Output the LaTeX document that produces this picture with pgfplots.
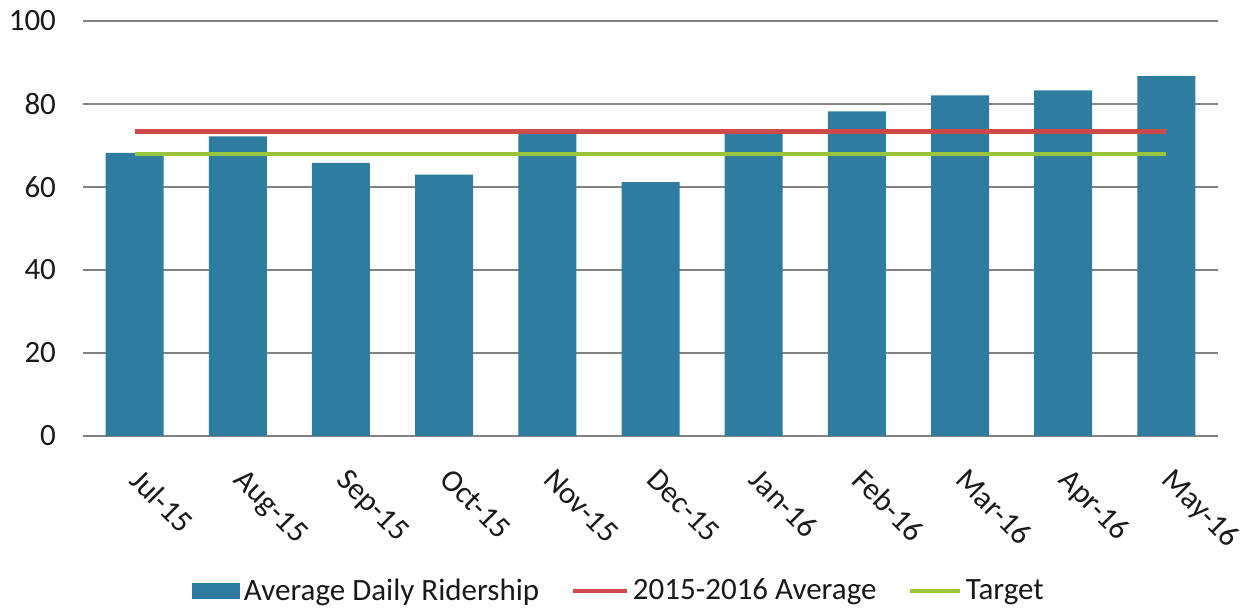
\documentclass[border=0pt]{standalone}
\usepackage{fontspec}
\setmainfont{Carlito}
\usepackage{pgfplots}
\pgfplotsset{compat=1.18}
\definecolor{barblue}{RGB}{46,125,161}
\definecolor{avgred}{RGB}{204,74,74}
\definecolor{tgtgreen}{RGB}{152,196,62}
\definecolor{gridgray}{RGB}{130,130,130}
\definecolor{txt}{RGB}{25,25,25}
\begin{document}
\begin{tikzpicture}
\begin{axis}[
  name=ax,
  scale only axis,
  width=567.5pt, height=207.5pt,
  xmin=-0.5, xmax=10.5,
  ymin=0, ymax=100,
  ytick={0,20,40,60,80,100},
  xtick={0,...,10},
  xticklabels={Jul-15,Aug-15,Sep-15,Oct-15,Nov-15,Dec-15,Jan-16,Feb-16,Mar-16,Apr-16,May-16},
  axis line style={draw=none},
  major tick length=0pt,
  ymajorgrids,
  grid style={gridgray, line width=0.8pt},
  /pgf/number format/assume math mode=true,
  tick label style={font=\fontsize{15.5}{18}\selectfont, text=txt},
  yticklabel style={xshift=-10pt},
  xticklabel style={xshift=4.5pt, yshift=-10.5pt, rotate=-45, anchor=north west},
  legend columns=3,
  legend style={at={(0.473,-0.3735)}, anchor=center, draw=none, fill=none,
    font=\fontsize{15.5}{18}\selectfont, text=txt,
    /tikz/every even column/.append style={column sep=13.5pt},
    nodes={inner xsep=2pt}},
]
\addplot[ybar, bar width=29pt, fill=barblue, draw=none,
  legend image code/.code={\fill[barblue] (0pt,-4pt) rectangle (24pt,4pt);}]
  coordinates {(0,68.2) (1,72.2) (2,65.8) (3,63.0) (4,72.8) (5,61.2) (6,73.0) (7,78.2) (8,82.1) (9,83.3) (10,86.7)};
\addlegendentry{Average Daily Ridership}
\addplot[avgred, line width=2.4pt, mark=none,
  legend image code/.code={\draw[avgred, line width=2.4pt] (0pt,0pt) -- (27pt,0pt);}]
  coordinates {(0,73.4) (1,73.4) (2,73.4) (3,73.4) (4,73.4) (5,73.4) (6,73.4) (7,73.4) (8,73.4) (9,73.4) (10,73.4)};
\addlegendentry{2015-2016 Average}
\addplot[tgtgreen, line width=2.2pt, mark=none,
  legend image code/.code={\draw[tgtgreen, line width=2.2pt] (0pt,0pt) -- (25pt,0pt);}]
  coordinates {(0,68) (1,68) (2,68) (3,68) (4,68) (5,68) (6,68) (7,68) (8,68) (9,68) (10,68)};
\addlegendentry{Target}
\end{axis}
\pgfresetboundingbox
\useasboundingbox ([shift={(-41.5pt,-86.5pt)}]ax.south west) rectangle ([shift={(15.5pt,10.5pt)}]ax.north east);
\end{tikzpicture}
\end{document}
